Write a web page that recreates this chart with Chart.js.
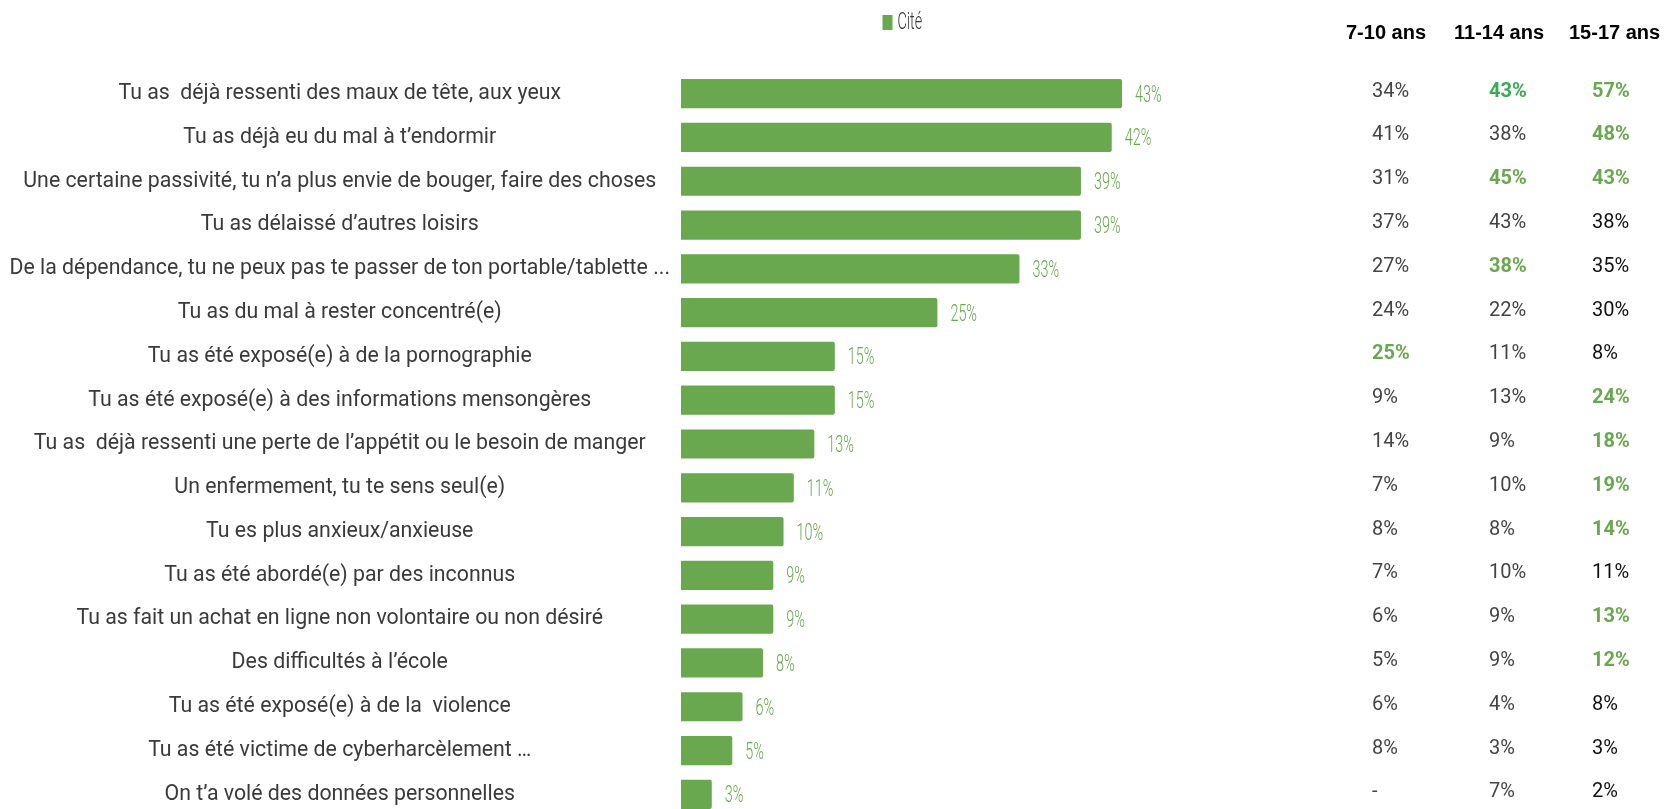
<!DOCTYPE html>
<html>
<head>
<meta charset="utf-8">
<script src="https://cdn.jsdelivr.net/npm/chart.js@4/dist/chart.umd.min.js"></script>
<style>
  html, body { margin: 0; padding: 0; background: #fff; overflow: hidden; }
  canvas { display: block; }
</style>
</head>
<body>
<canvas id="c" width="1668" height="840"></canvas>
<script>
const categories = [
    'Tu as  déjà ressenti des maux de tête, aux yeux',
    'Tu as déjà eu du mal à t\u2019endormir',
    'Une certaine passivité, tu n\u2019a plus envie de bouger, faire des choses',
    'Tu as délaissé d\u2019autres loisirs',
    'De la dépendance, tu ne peux pas te passer de ton portable/tablette ...',
    'Tu as du mal à rester concentré(e)',
    'Tu as été exposé(e) à de la pornographie',
    'Tu as été exposé(e) à des informations mensongères',
    'Tu as  déjà ressenti une perte de l\u2019appétit ou le besoin de manger',
    'Un enfermement, tu te sens seul(e)',
    'Tu es plus anxieux/anxieuse',
    'Tu as été abordé(e) par des inconnus',
    'Tu as fait un achat en ligne non volontaire ou non désiré',
    'Des difficultés à l\u2019école',
    'Tu as été exposé(e) à de la  violence',
    'Tu as été victime de cyberharcèlement \u2026',
    'On t\u2019a volé des données personnelles'
];
const cite = [43, 42, 39, 39, 33, 25, 15, 15, 13, 11, 10, 9, 9, 8, 6, 5, 3];

const ageGroups = ['7-10 ans', '11-14 ans', '15-17 ans'];
const age7_10  = [34, 41, 31, 37, 27, 24, 25, 9, 14, 7, 8, 7, 6, 5, 6, 8, null];
const age11_14 = [43, 38, 45, 43, 38, 22, 11, 13, 9, 10, 8, 10, 9, 9, 4, 3, 7];
const age15_17 = [57, 48, 43, 38, 35, 30, 8, 24, 18, 19, 14, 11, 13, 12, 8, 3, 2];
// 0 = normal, 1 = significatif (vert), 2 = significatif (vert foncé)
const sig7_10  = [0, 0, 0, 0, 0, 0, 1, 0, 0, 0, 0, 0, 0, 0, 0, 0, 0];
const sig11_14 = [2, 0, 1, 0, 1, 0, 0, 0, 0, 0, 0, 0, 0, 0, 0, 0, 0];
const sig15_17 = [1, 1, 1, 0, 0, 0, 0, 1, 1, 1, 1, 0, 1, 1, 0, 0, 0];

const green = '#6aa84f';
const tableCols = [
    { values: age7_10,  sig: sig7_10,  head: 1346, left: 1372, color: '#444444' },
    { values: age11_14, sig: sig11_14, head: 1454, left: 1489, color: '#444444' },
    { values: age15_17, sig: sig15_17, head: 1569, left: 1592, color: '#111111' }
];

const extras = {
    id: 'extras',
    afterDatasetsDraw(chart) {
        const ctx = chart.ctx;
        const meta = chart.getDatasetMeta(0);
        const area = chart.chartArea;

        // valeurs au bout des barres
        ctx.save();
        ctx.fillStyle = green;
        ctx.font = '300 24px Roboto';
        ctx.textBaseline = 'middle';
        ctx.textAlign = 'left';
        meta.data.forEach((bar, i) => {
            ctx.save();
            ctx.translate(bar.x + 13, bar.y + 2);
            ctx.scale(0.6, 1);
            ctx.fillText(cite[i] + '%', 0, 0);
            ctx.restore();
        });
        ctx.restore();

        // légende
        const mid = (area.left + area.right) / 2;
        ctx.save();
        ctx.fillStyle = green;
        ctx.fillRect(mid - 19, 15, 10, 15);
        ctx.fillStyle = '#333333';
        ctx.font = '300 24px Roboto';
        ctx.textBaseline = 'middle';
        ctx.translate(mid - 4, 23);
        ctx.scale(0.6, 1);
        ctx.fillText('Cité', 0, 0);
        ctx.restore();

        // tableau par âge
        const yScale = chart.scales.y;
        ctx.save();
        ctx.textBaseline = 'middle';
        ctx.textAlign = 'left';
        tableCols.forEach((col, c) => {
            ctx.fillStyle = '#000000';
            ctx.font = 'bold 20px "Liberation Sans", Arial, sans-serif';
            ctx.fillText(ageGroups[c], col.head, 33);
            col.values.forEach((v, i) => {
                const y = yScale.getPixelForValue(i) - 2;
                const s = col.sig[i];
                ctx.font = (s ? 'bold ' : '') + '20px Roboto';
                ctx.fillStyle = s === 2 ? '#3aaa56' : (s === 1 ? green : col.color);
                ctx.fillText(v === null ? '-' : v + '%', col.left, y);
            });
        });
        ctx.restore();
    }
};

new Chart(document.getElementById('c'), {
    type: 'bar',
    data: {
        labels: categories,
        datasets: [{
            label: 'Cité',
            data: cite,
            backgroundColor: green,
            borderWidth: 0,
            borderRadius: 2,
            barPercentage: 0.667,
            categoryPercentage: 1
        }]
    },
    options: {
        indexAxis: 'y',
        responsive: false,
        animation: false,
        layout: { padding: { top: 71.75, bottom: 18.7, left: 0, right: 546 } },
        plugins: {
            legend: { display: false },
            tooltip: { enabled: false }
        },
        scales: {
            x: {
                display: false,
                min: 0,
                max: 43
            },
            y: {
                grid: { display: false, drawTicks: false },
                border: { display: false },
                afterFit(scale) { scale.width = 681; },
                ticks: {
                    autoSkip: false,
                    crossAlign: 'center',
                    padding: 11,
                    color: '#3a3a3a',
                    font: { family: 'Roboto', size: 21.3 }
                }
            }
        }
    },
    plugins: [extras]
});
</script>
</body>
</html>
